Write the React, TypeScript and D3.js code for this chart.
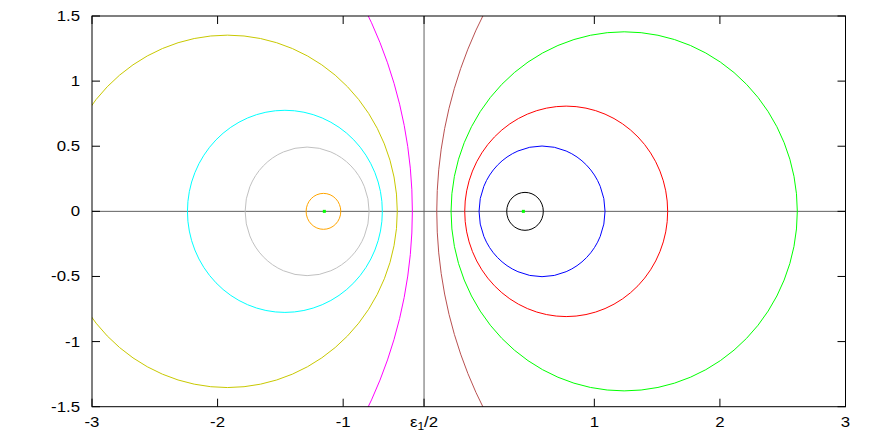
import React from "react";
import * as d3 from "d3";

const W = 872;
const H = 436;
const margin = { left: 92, right: 26.5, top: 16, bottom: 29.3 };

const halfEps = -0.356;
const xTickValues = [-3, -2, -1, halfEps, 1, 2, 3];
const xTickLabels = ["-3", "-2", "-1", "EPS", "1", "2", "3"];
const yTickValues = [-1.5, -1, -0.5, 0, 0.5, 1, 1.5];
const yTickLabels = ["-1.5", "-1", "-0.5", "0", "0.5", "1", "1.5"];

// Circles: center on y=0, radius (data units)
const circleNames = ["orange", "gray", "cyan", "olive", "magenta", "brown", "green", "red", "blue", "black"];
const circleCenters = [-1.157, -1.287, -1.464, -1.922, -3.835, 3.0, 1.2377, 0.776, 0.5836, 0.448];
const circleRadii = [0.138, 0.4936, 0.776, 1.353, 3.386, 3.2547, 1.3786, 0.808, 0.5016, 0.1457];
const circleColors = ["#ffa500", "#c0c0c0", "#00ffff", "#c8c800", "#ff00ff", "#b85050", "#00ff00", "#ff0000", "#0000ff", "#000000"];

const poleX = [-1.15, 0.435];

export default function App() {
  const x = d3.scaleLinear().domain([-3, 3]).range([margin.left, W - margin.right]);
  const y = d3.scaleLinear().domain([-1.5, 1.5]).range([H - margin.bottom, margin.top]);
  const x0 = x(-3), x1 = x(3), y0 = y(1.5), y1 = y(-1.5);
  const font = "'Liberation Sans', Arial, Helvetica, sans-serif";
  const tl = 8;

  return (
    <svg width={W} height={H} style={{ position: "fixed", left: 0, top: 0, background: "#fff" }}>
      <defs>
        <clipPath id="plot">
          <rect x={x0} y={y0} width={x1 - x0} height={y1 - y0} />
        </clipPath>
      </defs>
      <g clipPath="url(#plot)">
        <line x1={x0} x2={x1} y1={y(0)} y2={y(0)} stroke="#606060" strokeWidth={1} />
        <line x1={x(halfEps)} x2={x(halfEps)} y1={y0} y2={y1} stroke="#606060" strokeWidth={1} />
        {circleNames.map((n, i) => (
          <ellipse
            key={n}
            cx={x(circleCenters[i])}
            cy={y(0)}
            rx={x(circleCenters[i] + circleRadii[i]) - x(circleCenters[i])}
            ry={y(0) - y(circleRadii[i])}
            fill="none"
            stroke={circleColors[i]}
            strokeWidth={1}
          />
        ))}
        {poleX.map((p, i) => (
          <rect key={i} x={x(p) - 1.5} y={y(0) - 1.5} width={3} height={3} fill="#00ff00" />
        ))}
      </g>
      {xTickValues.map((v, i) => (
        <g key={"xt" + i}>
          <line x1={x(v)} x2={x(v)} y1={y1} y2={y1 - tl} stroke="#000" />
          <line x1={x(v)} x2={x(v)} y1={y0} y2={y0 + tl} stroke="#000" />
          <g transform={`translate(${x(v)},${y1 + 20.5}) scale(1.2,1)`}>
            {xTickLabels[i] === "EPS" ? (
              <text textAnchor="middle" fontFamily={font} fontSize={14} fill="#000">
                ε<tspan fontSize={10} dy={3}>1</tspan>
                <tspan dy={-3}>/2</tspan>
              </text>
            ) : (
              <text textAnchor="middle" fontFamily={font} fontSize={14} fill="#000">
                {xTickLabels[i]}
              </text>
            )}
          </g>
        </g>
      ))}
      {yTickValues.map((v, i) => (
        <g key={"yt" + i}>
          <line x1={x0} x2={x0 + tl} y1={y(v)} y2={y(v)} stroke="#000" />
          <line x1={x1} x2={x1 - tl} y1={y(v)} y2={y(v)} stroke="#000" />
          <g transform={`translate(${x0 - 12},${y(v) + 5}) scale(1.2,1)`}>
            <text textAnchor="end" fontFamily={font} fontSize={14} fill="#000">
              {yTickLabels[i]}
            </text>
          </g>
        </g>
      ))}
      <rect x={x0} y={y0} width={x1 - x0} height={y1 - y0} fill="none" stroke="#000" strokeWidth={1} />
    </svg>
  );
}
